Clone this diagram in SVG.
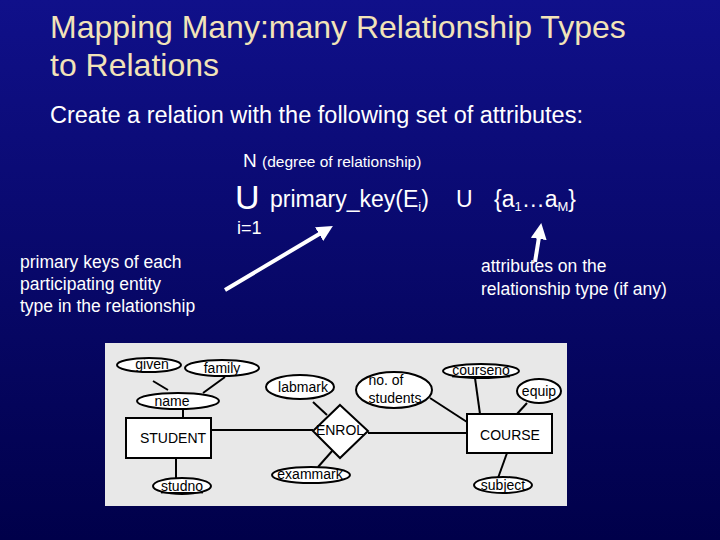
<svg xmlns="http://www.w3.org/2000/svg" width="720" height="540" viewBox="0 0 720 540">
<defs>
<linearGradient id="bg" x1="0" y1="0" x2="0" y2="1"><stop offset="0" stop-color="#10108a"/><stop offset="1" stop-color="#00004a"/></linearGradient>
<marker id="ah" markerWidth="4" markerHeight="4" refX="2" refY="2" orient="auto" markerUnits="strokeWidth"><path d="M0,0 L4,2 L0,4 Z" fill="#fff"/></marker>
<style>
text{font-family:"Liberation Sans",Arial,sans-serif}
.t{fill:#f2e3b8;font-size:32px}
.w{fill:#fff}
.e{fill:#fff;stroke:#000;stroke-width:2}
.l{stroke:#000;stroke-width:2;fill:none}
.k{font-size:14px;fill:#000;text-anchor:middle}
.u{text-decoration:underline}
</style>
</defs>
<rect width="720" height="540" fill="url(#bg)"/>
<text class="t" x="50" y="38">Mapping Many:many Relationship Types</text>
<text class="t" x="50" y="76">to Relations</text>
<text class="w" x="50" y="123" font-size="23.5">Create a relation with the following set of attributes:</text>
<text class="w" x="243" y="167" font-size="19">N <tspan font-size="15.5">(degree of relationship)</tspan></text>
<text class="w" x="235" y="209" font-size="34" font-weight="300">U</text>
<text class="w" x="270" y="207" font-size="23">primary_key(E<tspan font-size="13" dy="4">i</tspan><tspan dy="-4">)</tspan></text>
<text class="w" x="456" y="207" font-size="23">U</text>
<text class="w" x="494" y="207" font-size="23">{a<tspan font-size="13" dy="4">1</tspan><tspan dy="-4">…a</tspan><tspan font-size="13" dy="4">M</tspan><tspan dy="-4">}</tspan></text>
<text class="w" x="237" y="234" font-size="18">i=1</text>
<g class="w" font-size="17.5">
<text x="20" y="268">primary keys of each</text>
<text x="20" y="290">participating entity</text>
<text x="20" y="312">type in the relationship</text>
<text x="481" y="272">attributes on the</text>
<text x="481" y="295">relationship type (if any)</text>
</g>
<g id="arrows" stroke="#fff" stroke-width="4" fill="none">
<line x1="225" y1="290" x2="326" y2="230" marker-end="url(#ah)"/>
<line x1="535" y1="262" x2="540" y2="231" marker-end="url(#ah)"/>
</g>
<rect x="105" y="343" width="462" height="163" fill="#e8e8e8"/>
<g id="connectors" class="l">
<line x1="153" y1="381" x2="168" y2="390"/>
<line x1="225" y1="377" x2="203" y2="393"/>
<line x1="183" y1="409" x2="183" y2="418"/>
<line x1="176" y1="458" x2="176" y2="478"/>
<line x1="211" y1="430" x2="313" y2="430"/>
<line x1="368" y1="433" x2="467" y2="433"/>
<line x1="313" y1="402" x2="327" y2="415"/>
<line x1="333" y1="450" x2="318" y2="467"/>
<line x1="430" y1="398" x2="467" y2="422"/>
<line x1="475" y1="378" x2="480" y2="414"/>
<line x1="527" y1="403" x2="517" y2="414"/>
<line x1="507" y1="453" x2="498" y2="478"/>
</g>
<g id="given"><ellipse class="e" cx="149" cy="365" rx="32" ry="7"/><text class="k" x="152" y="369">given</text></g>
<g id="family"><ellipse class="e" cx="222" cy="368" rx="37" ry="8"/><text class="k" x="222" y="373">family</text></g>
<g id="name"><ellipse class="e" cx="178" cy="401" rx="41" ry="8"/><text class="k" x="172" y="406">name</text></g>
<g id="student"><rect class="e" x="126" y="418" width="85" height="40"/><text class="k" x="173" y="443">STUDENT</text></g>
<g id="studno"><ellipse class="e" cx="182" cy="486" rx="29" ry="8"/><text class="k u" x="182" y="491">studno</text></g>
<g id="labmark"><ellipse class="e" cx="300" cy="387" rx="34" ry="12"/><text class="k" x="303" y="392">labmark</text></g>
<g id="enrol"><polygon class="e" points="340,405 368,431 340,458 313,431"/><text class="k" x="340" y="435">ENROL</text></g>
<g id="exammark"><ellipse class="e" cx="311" cy="475" rx="39" ry="8"/><text class="k" x="310" y="479">exammark</text></g>
<g id="noofstudents"><ellipse class="e" cx="394" cy="390" rx="38" ry="18"/><text class="k" x="386" y="385">no. of</text><text class="k" x="395" y="403">students</text></g>
<g id="course"><rect class="e" x="467" y="414" width="85" height="39"/><text class="k" x="510" y="440">COURSE</text></g>
<g id="courseno"><ellipse class="e" cx="481" cy="371" rx="38" ry="7"/><text class="k u" x="481" y="375">courseno</text></g>
<g id="equip"><ellipse class="e" cx="539" cy="391" rx="22" ry="12"/><text class="k" x="539" y="396">equip</text></g>
<g id="subject"><ellipse class="e" cx="503" cy="485" rx="29" ry="8"/><text class="k" x="503" y="490">subject</text></g>
</svg>
